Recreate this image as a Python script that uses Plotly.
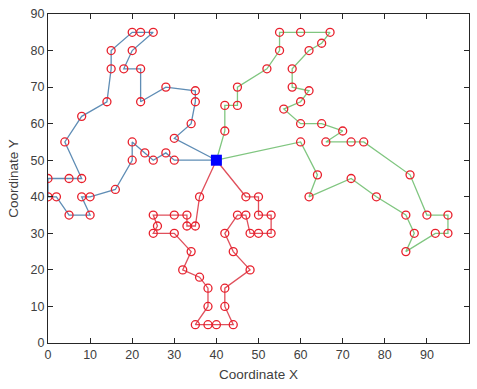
import plotly.graph_objects as go

depot = (40, 50)

route_blue_x = [30, 28, 25, 23, 20, 20, 16, 10, 8, 10, 5, 2, 0, 0, 5, 8, 4, 8, 14, 15, 15, 20, 22, 25, 20, 18, 22, 22, 28, 35, 35, 34, 30]
route_blue_y = [50, 52, 50, 52, 55, 50, 42, 40, 40, 35, 35, 40, 40, 45, 45, 45, 55, 62, 66, 75, 80, 85, 85, 85, 80, 75, 75, 66, 70, 69, 66, 60, 56]

route_red_x = [36, 35, 33, 33, 30, 25, 26, 25, 30, 34, 32, 36, 38, 38, 35, 38, 40, 44, 42, 42, 48, 44, 42, 45, 47, 48, 50, 53, 53, 50, 50, 47]
route_red_y = [40, 32, 32, 35, 35, 35, 32, 30, 30, 25, 20, 18, 15, 10, 5, 5, 5, 5, 10, 15, 20, 25, 30, 35, 35, 30, 30, 30, 35, 35, 40, 40]

route_green_x = [60, 64, 62, 72, 78, 85, 87, 85, 92, 95, 95, 90, 86, 75, 72, 66, 70, 65, 60, 56, 60, 62, 58, 58, 62, 65, 67, 60, 55, 55, 52, 45, 45, 42, 42]
route_green_y = [55, 46, 40, 45, 40, 35, 30, 25, 30, 30, 35, 35, 46, 55, 55, 55, 58, 60, 60, 64, 66, 69, 70, 75, 80, 82, 85, 85, 85, 80, 75, 70, 65, 65, 58]

routes = [
    (route_blue_x, route_blue_y, "#5f8db5"),
    (route_red_x, route_red_y, "#e0505c"),
    (route_green_x, route_green_y, "#80c680"),
]

fig = go.Figure()
for rx, ry, col in routes:
    fig.add_trace(go.Scatter(
        x=[depot[0]] + rx + [depot[0]],
        y=[depot[1]] + ry + [depot[1]],
        mode="lines", line=dict(color=col, width=1.3),
        hoverinfo="skip", showlegend=False))

all_x = route_blue_x + route_red_x + route_green_x
all_y = route_blue_y + route_red_y + route_green_y
fig.add_trace(go.Scatter(
    x=all_x, y=all_y, mode="markers",
    marker=dict(symbol="circle-open", size=8, color="#e8202c", line=dict(width=1.3)),
    showlegend=False))

fig.add_trace(go.Scatter(
    x=[depot[0]], y=[depot[1]], mode="markers",
    marker=dict(symbol="square", size=11, color="#0000ff"),
    showlegend=False))

axis_common = dict(
    showgrid=False, zeroline=False, showline=True, linecolor="#262626", linewidth=1,
    mirror="ticks", ticks="inside", ticklen=5, tickcolor="#262626",
    tickfont=dict(family="Liberation Sans, Arial", size=12.5, color="#404040"),
)

fig.update_layout(
    width=477, height=389,
    margin=dict(l=48, r=7, t=10, b=46),
    paper_bgcolor="white", plot_bgcolor="white",
    xaxis=dict(range=[0, 100], dtick=10, tick0=0,
               title=dict(text="Coordinate X", standoff=8,
                          font=dict(family="Liberation Sans, Arial", size=13.5, color="#404040")),
               **axis_common),
    yaxis=dict(range=[0, 90], dtick=10, tick0=0,
               title=dict(text="Coordinate Y", standoff=8,
                          font=dict(family="Liberation Sans, Arial", size=13.5, color="#404040")),
               **axis_common),
)

fig.write_html("out.html")
